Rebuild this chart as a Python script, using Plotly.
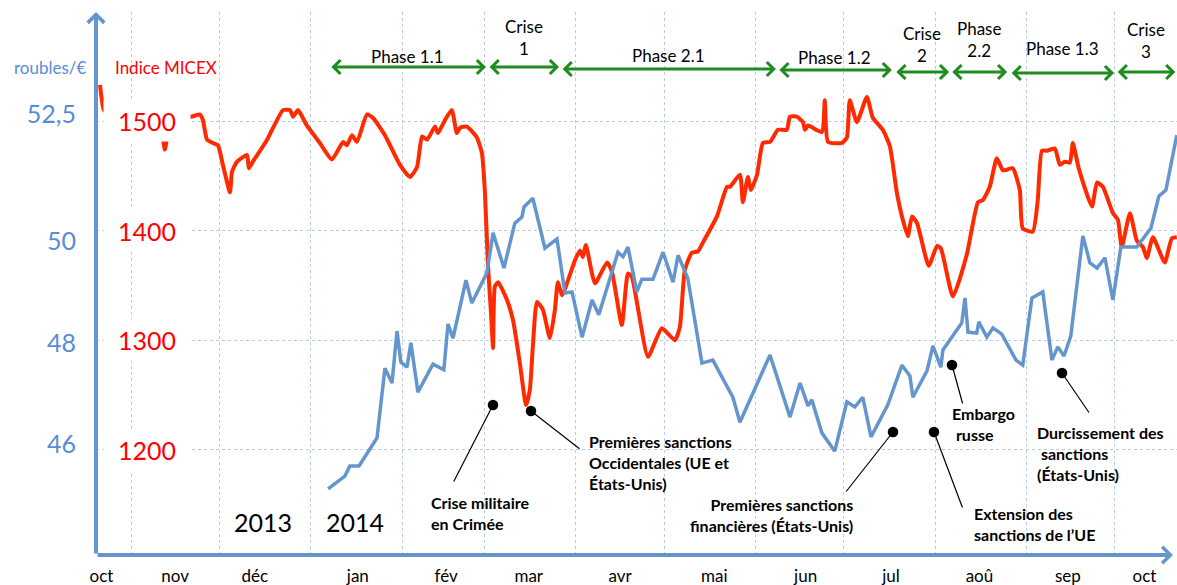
import pandas as pd
import plotly.graph_objects as go

ORIGINE = pd.Timestamp("2013-11-01")

# Indice MICEX : jours depuis le 1er novembre 2013, valeur de l'indice
micex_jours = [-10.5, -9.2, -6.4, -2.0, 3.1, 8.1, 10.2, 11.5, 12.9, 16.0,
               20.4, 23.4, 24.4, 25.8, 27.8, 29.5, 31.2, 33.6, 34.3, 36.0,
               39.4, 40.0, 41.4, 46.2, 51.6, 54.0, 55.0, 56.7, 59.7, 64.1,
               68.2, 72.0, 73.3, 75.0, 76.7, 80.1, 82.1, 86.2, 91.3, 94.7,
               97.1, 98.8, 100.5, 103.2, 104.2, 106.6, 108.9, 110.6, 111.7, 114.0,
               117.4, 119.1, 120.1, 121.2, 122.2, 122.9, 123.5, 124.6, 127.6, 129.7,
               132.0, 134.1, 135.4, 136.4, 137.8, 139.8, 142.2, 143.9, 144.9, 146.3,
               150.7, 152.4, 153.4, 154.4, 157.5, 161.6, 163.3, 166.6, 168.7, 170.0,
               175.5, 180.2, 184.6, 186.3, 188.0, 190.4, 192.4, 194.1, 198.9, 202.3,
               203.3, 206.7, 207.7, 209.4, 210.4, 212.5, 214.5, 216.9, 219.6, 222.6,
               223.7, 226.0, 228.1, 228.8, 229.8, 234.5, 235.5, 236.6, 241.3, 243.0,
               244.0, 246.4, 249.8, 251.8, 255.2, 257.6, 260.0, 261.7, 263.7, 265.1,
               266.8, 270.8, 273.6, 274.9, 279.0, 283.7, 287.5, 289.2, 291.5, 293.9,
               296.0, 299.3, 301.7, 302.7, 306.1, 307.8, 309.2, 310.9, 313.6, 315.3,
               317.0, 318.7, 319.7, 321.7, 326.2, 327.9, 329.9, 333.3, 335.0, 336.3,
               339.1, 341.4, 343.5, 344.8, 346.9, 350.9, 353.3, 355.0]
micex_valeurs = [1533, 1510, 1504, 1503, 1505, 1501, 1494, 1474, 1494, 1504,
                 1504, 1506, 1501, 1483, 1480, 1478, 1460, 1435, 1454, 1463,
                 1469, 1457, 1463, 1483, 1510, 1510, 1504, 1510, 1496, 1480,
                 1465, 1481, 1478, 1487, 1481, 1506, 1503, 1487, 1460, 1449,
                 1458, 1486, 1483, 1495, 1489, 1501, 1510, 1489, 1494, 1495,
                 1485, 1471, 1437, 1367, 1325, 1293, 1349, 1353, 1337, 1318,
                 1279, 1241, 1255, 1294, 1335, 1328, 1302, 1328, 1353, 1341,
                 1373, 1382, 1376, 1387, 1352, 1371, 1362, 1314, 1361, 1358,
                 1285, 1311, 1300, 1312, 1364, 1380, 1381, 1389, 1413, 1440,
                 1440, 1451, 1426, 1449, 1437, 1451, 1480, 1481, 1492, 1492,
                 1504, 1504, 1499, 1492, 1496, 1490, 1519, 1481, 1480, 1485,
                 1519, 1499, 1522, 1503, 1492, 1477, 1434, 1413, 1395, 1413,
                 1407, 1368, 1386, 1384, 1340, 1378, 1426, 1428, 1440, 1466,
                 1455, 1457, 1437, 1402, 1399, 1428, 1473, 1473, 1475, 1460,
                 1463, 1462, 1480, 1457, 1422, 1444, 1440, 1416, 1410, 1385,
                 1416, 1391, 1385, 1375, 1394, 1371, 1393, 1394]

# Roubles pour un euro : jours depuis le 1er novembre 2013, cours
rouble_jours = [66.9, 72.6, 74.3, 77.4, 83.5, 86.2, 88.6, 90.3, 91.6, 93.7,
                95.0, 97.4, 102.5, 106.2, 107.6, 109.3, 113.7, 115.7, 120.8, 122.9,
                126.6, 130.3, 132.7, 133.4, 136.4, 140.5, 144.6, 147.3, 149.7, 153.1,
                156.5, 158.8, 165.3, 167.0, 168.7, 171.7, 173.4, 177.2, 180.6, 184.0,
                185.7, 189.0, 193.8, 197.5, 204.3, 206.7, 216.9, 223.7, 227.1, 229.8,
                231.1, 234.5, 238.9, 243.0, 245.7, 248.4, 251.2, 256.9, 261.7, 264.4,
                265.4, 270.2, 272.2, 274.9, 275.6, 282.0, 283.1, 284.1, 287.1, 287.8,
                290.5, 292.6, 295.6, 300.4, 302.7, 305.8, 309.5, 312.6, 314.6, 316.7,
                319.0, 323.1, 325.5, 327.9, 330.6, 333.3, 336.0, 341.4, 346.2, 348.9,
                351.3, 355.0]
rouble_valeurs = [45.13, 45.38, 45.58, 45.58, 46.13, 47.50, 47.21, 48.23, 47.62, 47.52,
                  48.00, 47.03, 47.58, 47.47, 48.37, 48.09, 49.23, 48.78, 49.37, 50.16,
                  49.47, 50.35, 50.47, 50.67, 50.84, 49.86, 50.04, 48.98, 49.00, 48.11,
                  48.84, 48.55, 49.78, 49.69, 49.88, 49.00, 49.25, 49.25, 49.78, 49.19,
                  49.72, 49.27, 47.60, 47.66, 46.93, 46.44, 47.76, 46.54, 47.21, 46.76,
                  46.88, 46.23, 45.87, 46.84, 46.74, 46.93, 46.15, 46.78, 47.56, 47.35,
                  46.93, 47.45, 47.94, 47.52, 47.86, 48.39, 48.88, 48.21, 48.19, 48.41,
                  48.11, 48.29, 48.17, 47.66, 47.56, 48.88, 49.00, 47.66, 47.92, 47.74,
                  48.13, 50.10, 49.57, 49.47, 49.67, 48.84, 49.88, 49.88, 50.25, 50.88,
                  51.00, 52.08]

# Axes
mois_labels = ["oct", "nov", "déc", "jan", "fév", "mar", "avr", "mai",
               "jun", "jul", "aoû", "sep", "oct"]
mois_positions = ["2013-10-22", "2013-11-16", "2013-12-13", "2014-01-17",
                  "2014-02-16", "2014-03-16", "2014-04-16", "2014-05-18",
                  "2014-06-18", "2014-07-17", "2014-08-16", "2014-09-15",
                  "2014-10-11"]
micex_ticks = [1200, 1300, 1400, 1500]
micex_ticktext = ["1200", "1300", "1400", "1500"]
rouble_ticks = [46, 48, 50, 52.5]
rouble_ticktext = ["46", "48", "50", "52,5"]

# Phases
phase_noms = ["Phase 1.1", "Crise<br>1", "Phase 2.1", "Phase 1.2",
              "Crise<br>2", "Phase<br>2.2", "Phase 1.3", "Crise<br>3"]
phase_debut = ["2014-01-07 12:00", "2014-03-02 05:00", "2014-03-27 00:00",
               "2014-06-08 14:00", "2014-07-18 07:00", "2014-08-06 07:00",
               "2014-08-26 10:00", "2014-10-01 10:00"]
phase_fin = ["2014-03-01 12:00", "2014-03-26 07:00", "2014-06-07 22:00",
             "2014-07-17 07:00", "2014-08-05 17:00", "2014-08-25 10:00",
             "2014-09-30 17:00", "2014-10-21 12:00"]

# Evenements
evenements = ["Crise militaire<br>en Crimée",
              "Premières sanctions<br>Occidentales (UE et<br>États-Unis)",
              "Premières sanctions<br>financières (États-Unis)",
              "Extension des<br>sanctions de l’UE",
              "Embargo<br>\u00a0russe",
              "Durcissement des<br>\u00a0sanctions<br>(États-Unis)"]

# ---------------------------------------------------------------------------
BLEU = "#6496CD"
BLEU_TXT = "#558ED5"
ROUGE = "#FF2A00"
ROUGE_TXT = "#FF0000"
VERT = "#1E8C1E"
GRILLE = "#B7CCE6"
FONT = "Lato"

W, H = 1177, 585
ML, MR, MT, MB = 96, 0, 12, 30
PW, PH = W - ML - MR, H - MT - MB


def fx(px):
    return (px - ML) / PW


def fy(py):
    return (H - MB - py) / PH


def to_dates(jours):
    return [ORIGINE + pd.Timedelta(days=j) for j in jours]


def label(x, y, text, size, color, xref="x domain", yref="y domain",
          xanchor="center", align="center", **kw):
    return dict(xref=xref, yref=yref, x=x, y=y, text=text, showarrow=False,
                xanchor=xanchor, yanchor="middle", align=align,
                font=dict(family=FONT, size=size, color=color), **kw)


fig = go.Figure()
fig.add_trace(go.Scatter(x=to_dates(micex_jours), y=micex_valeurs, mode="lines",
                         line=dict(color=ROUGE, width=4, shape="spline", smoothing=0.5),
                         name="Indice MICEX", yaxis="y", hoverinfo="skip"))
fig.add_trace(go.Scatter(x=to_dates(rouble_jours), y=rouble_valeurs, mode="lines",
                         line=dict(color=BLEU, width=3.5),
                         name="roubles/€", yaxis="y2", hoverinfo="skip"))

ann = []
# axis arrows
ann.append(dict(xref="x domain", yref="y domain", axref="x domain", ayref="y domain",
                x=0, y=1, ax=0, ay=0, text="", showarrow=True, arrowhead=4,
                arrowsize=0.8, arrowwidth=4, arrowcolor=BLEU))
ann.append(dict(xref="x domain", yref="y domain", axref="x domain", ayref="y domain",
                x=fx(1173), y=0, ax=0, ay=0, text="", showarrow=True, arrowhead=4,
                arrowsize=0.8, arrowwidth=4, arrowcolor=BLEU))

# axis titles
ann.append(label(fx(50), fy(68), "roubles/€", 17, BLEU_TXT))
ann.append(label(fx(166), fy(68), "Indice MICEX", 17, ROUGE_TXT))

# red MICEX labels with white background
for v, t in zip(micex_ticks, micex_ticktext):
    ann.append(label(fx(147), v, t, 25, ROUGE_TXT, yref="y",
                     bgcolor="white", width=84, height=38))

# years
ann.append(label(fx(263), fy(522), "2013", 25, "black"))
ann.append(label(fx(355), fy(522), "2014", 25, "black"))

# phases
arrow_py = [67, 67, 69, 70, 72, 72, 73, 72]
label_py = [56, 37, 55, 57, 45, 40, 48, 41]
for nom, d, f, apy, lpy in zip(phase_noms, phase_debut, phase_fin, arrow_py, label_py):
    td, tf = pd.Timestamp(d), pd.Timestamp(f)
    mid = td + (tf - td) / 2
    ann.append(dict(xref="x", yref="y domain", axref="x", ayref="y domain",
                    x=tf, y=fy(apy), ax=td, ay=fy(apy), text="", showarrow=True,
                    arrowhead=4, startarrowhead=4, arrowside="end+start",
                    arrowsize=0.9, startarrowsize=0.9, arrowwidth=3, arrowcolor=VERT))
    ann.append(label(mid, fy(lpy), nom, 17, "black", xref="x"))

# event callouts: (dot), (line end), (text anchor), align
call_geo = [((493, 405), (453, 483), (429, 513), "left"),
            ((531, 411), (581, 450), (587, 462), "left"),
            ((893, 432), (845, 493), (855, 515), "right"),
            ((934, 432), (963, 509), (972, 524), "left"),
            ((952, 365), (963, 405), (950, 424), "left"),
            ((1062, 373), (1090, 414), (1035, 453), "left")]
for txt, (dot, tail, tpos, al) in zip(evenements, call_geo):
    ann.append(dict(xref="x domain", yref="y domain", axref="x domain", ayref="y domain",
                    x=fx(dot[0]), y=fy(dot[1]), ax=fx(tail[0]), ay=fy(tail[1]),
                    text="", showarrow=True, arrowhead=6, arrowsize=2.2,
                    arrowwidth=1.2, arrowcolor="black"))
    ann.append(label(fx(tpos[0]), fy(tpos[1]), "<b>" + txt + "</b>", 16, "black",
                     xanchor=al, align=al))

x0 = ORIGINE + pd.Timedelta(days=-11.88)
x1 = ORIGINE + pd.Timedelta(days=355.06)

fig.update_layout(
    width=W, height=H,
    margin=dict(l=ML, r=MR, t=MT, b=MB, pad=0),
    paper_bgcolor="white", plot_bgcolor="white",
    showlegend=False, hovermode=False,
    font=dict(family=FONT),
    xaxis=dict(type="date", range=[x0, x1], tickmode="array",
               tickvals=mois_positions, ticktext=mois_labels,
               ticks="outside", ticklen=6, tickcolor="rgba(0,0,0,0)",
               tickfont=dict(family=FONT, size=17, color="black"),
               showgrid=False, zeroline=False, showline=False,
               minor=dict(dtick="M1", tick0="2013-11-01", showgrid=True,
                          gridcolor=GRILLE, griddash="dot", gridwidth=1, ticks="")),
    yaxis=dict(range=[1104.1, 1599.5], tickmode="array", tickvals=micex_ticks,
               showticklabels=False, showgrid=True, gridcolor=GRILLE,
               griddash="dot", gridwidth=1, zeroline=False, showline=False),
    yaxis2=dict(range=[43.83, 54.50], overlaying="y", side="left", tickmode="array",
                tickvals=rouble_ticks, ticktext=rouble_ticktext,
                tickfont=dict(family=FONT, size=25, color=BLEU_TXT),
                ticks="outside", ticklen=14, tickcolor="rgba(0,0,0,0)",
                showgrid=False, zeroline=False, showline=False),
    annotations=ann,
)

fig.write_html("out.html", config={"displayModeBar": False},
               post_script="document.body.style.margin='0';")
